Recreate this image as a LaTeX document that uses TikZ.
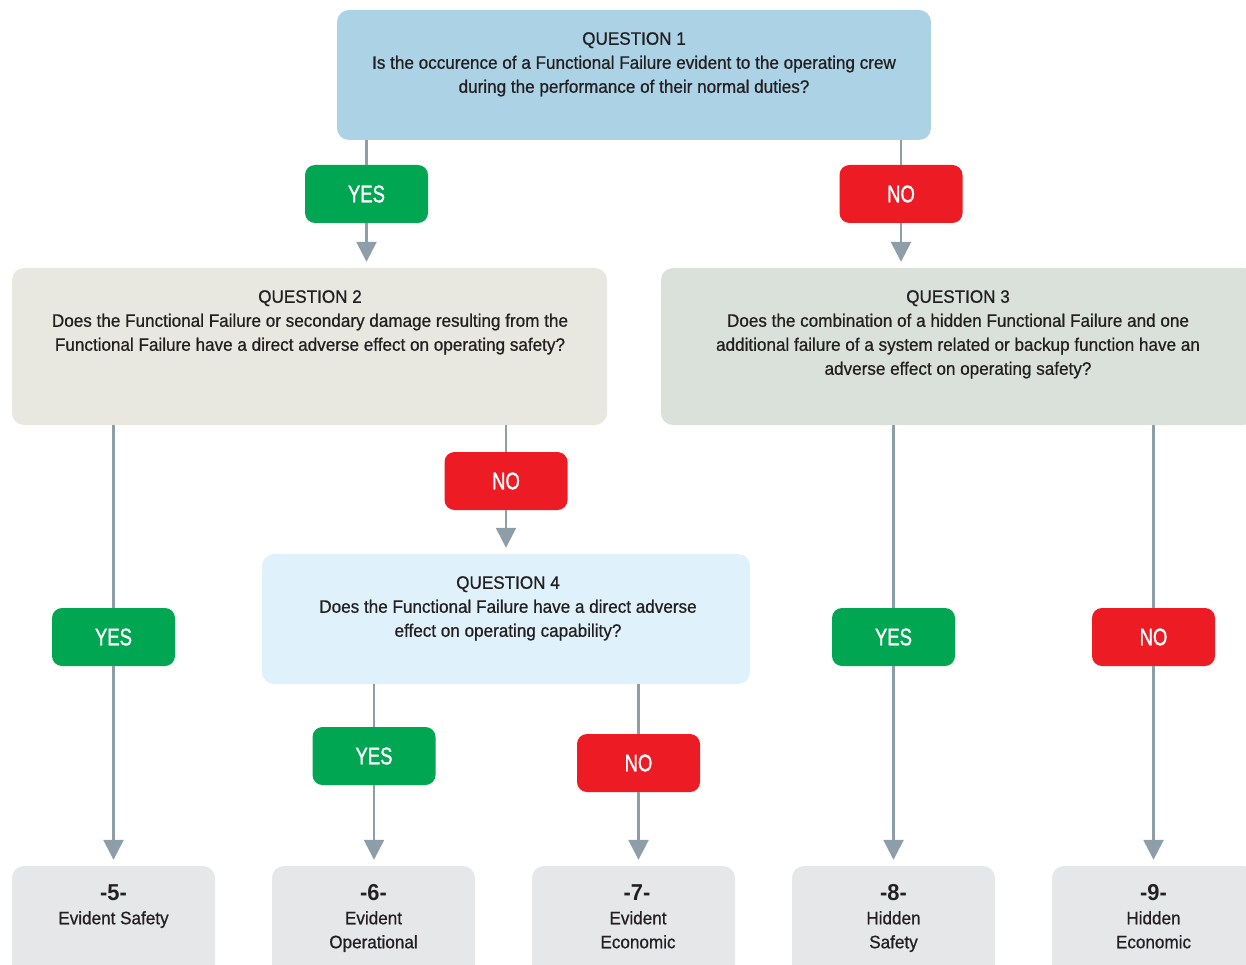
\documentclass[tikz,border=0pt]{standalone}
\usepackage{fontspec}
\setmainfont[FakeStretch=0.95]{Liberation Sans}
\newfontfamily\medfont[FakeStretch=0.95,FakeBold=0.7]{Liberation Sans}
\newfontfamily\tagfont[FakeStretch=0.77,FakeBold=1.2]{Liberation Sans}
\newfontfamily\numfont[FakeStretch=0.95]{Liberation Sans Bold}
\usetikzlibrary{arrows.meta}

\definecolor{qone}{HTML}{ABD2E5}
\definecolor{qtwo}{HTML}{E8E8E0}
\definecolor{qthree}{HTML}{DAE1DB}
\definecolor{qfour}{HTML}{DFF1FA}
\definecolor{outfill}{HTML}{E6E7E8}
\definecolor{yesgreen}{HTML}{00A651}
\definecolor{nored}{HTML}{ED1C24}
\definecolor{flow}{HTML}{8D9EA9}
\definecolor{ink}{HTML}{231F20}

\tikzset{
  box/.style={rectangle, rounded corners=12pt, inner sep=0pt, draw=none},
  qtext/.style={align=center, anchor=north, inner sep=0pt, text=ink,
    font=\medfont\fontsize{18}{24}\selectfont},
  answer/.style={box, rounded corners=10pt, minimum width=123pt, minimum height=58pt,
    text=white, font=\tagfont\fontsize{24}{24}\selectfont},
  yesbox/.style={answer, fill=yesgreen},
  nobox/.style={answer, fill=nored},
  outbox/.style={box, fill=outfill, minimum width=203pt, minimum height=115pt},
  outnum/.style={anchor=center, inner sep=0pt, text=ink, font=\numfont\fontsize{23}{24}\selectfont},
  outtext/.style={align=center, anchor=north, inner sep=0pt, text=ink,
    font=\medfont\fontsize{18}{24}\selectfont},
  link/.style={draw=flow, line width=2.6pt},
  arrowlink/.style={link, -{Triangle[width=20pt,length=20pt]}, shorten >=6pt},
}

\begin{document}
\begin{tikzpicture}[x=1pt, y=-1pt]
  \useasboundingbox (0,0) rectangle (1246,965);
  \clip (0,0) rectangle (1246,965);

  % question boxes
  \node[box, fill=qone,   minimum width=594pt, minimum height=130pt] (q1) at (634,75) {};
  \node[box, fill=qtwo,   minimum width=595pt, minimum height=157pt] (q2) at (309.5,346.5) {};
  \node[box, fill=qthree, minimum width=594pt, minimum height=157pt] (q3) at (958,346.5) {};
  \node[box, fill=qfour,  minimum width=488pt, minimum height=130pt] (q4) at (506,619) {};

  \node[qtext] (t1) at (634,32) {QUESTION 1\\Is the occurence of a Functional Failure evident to the operating crew\\during the performance of their normal duties?};
  \node[qtext] (t2) at (310,290) {QUESTION 2\\Does the Functional Failure or secondary damage resulting from the\\Functional Failure have a direct adverse effect on operating safety?};
  \node[qtext] (t3) at (958,290) {QUESTION 3\\Does the combination of a hidden Functional Failure and one\\additional failure of a system related or backup function have an\\adverse effect on operating safety?};
  \node[qtext] (t4) at (508,576) {QUESTION 4\\Does the Functional Failure have a direct adverse\\effect on operating capability?};

  % outcome boxes
  \node[outbox] (o5) at (113.5,923.5) {};
  \node[outbox] (o6) at (373.5,923.5) {};
  \node[outbox] (o7) at (633.5,923.5) {};
  \node[outbox] (o8) at (893.5,923.5) {};
  \node[outbox] (o9) at (1153.5,923.5) {};

  \node[outnum] (n5) at (113.5,893) {-5-};
  \node[outnum] (n6) at (373.5,893) {-6-};
  \node[outnum] (n7) at (637,893) {-7-};
  \node[outnum] (n8) at (893.5,893) {-8-};
  \node[outnum] (n9) at (1153.5,893) {-9-};
  \node[outtext] (d5) at (113.5,911) {Evident Safety};
  \node[outtext] (d6) at (373.5,911) {Evident\\Operational};
  \node[outtext] (d7) at (638,911) {Evident\\Economic};
  \node[outtext] (d8) at (893.5,911) {Hidden\\Safety};
  \node[outtext] (d9) at (1153.5,911) {Hidden\\Economic};

  % answer labels
  \node[yesbox] (y1) at (366.5,194) {YES};
  \node[nobox]  (n1) at (901,194)   {NO};
  \node[nobox]  (n2) at (506,481)   {NO};
  \node[yesbox] (y2) at (113.5,637) {YES};
  \node[yesbox] (y4) at (374,756)   {YES};
  \node[nobox]  (n4) at (638.5,763) {NO};
  \node[yesbox] (y3) at (893.5,637) {YES};
  \node[nobox]  (n3) at (1153.5,637) {NO};

  % connectors
  \draw[link] (q1.south -| y1) -- (y1.north);
  \draw[arrowlink] (y1.south) -- (q2.north -| y1);
  \draw[link] (q1.south -| n1) -- (n1.north);
  \draw[arrowlink] (n1.south) -- (q3.north -| n1);

  \draw[link] (q2.south -| y2) -- (y2.north);
  \draw[arrowlink] (y2.south) -- (o5.north -| y2);
  \draw[link] (q2.south -| n2) -- (n2.north);
  \draw[arrowlink] (n2.south) -- (q4.north -| n2);

  \draw[link] (q4.south -| y4) -- (y4.north);
  \draw[arrowlink] (y4.south) -- (o6.north -| y4);
  \draw[link] (q4.south -| n4) -- (n4.north);
  \draw[arrowlink] (n4.south) -- (o7.north -| n4);

  \draw[link] (q3.south -| y3) -- (y3.north);
  \draw[arrowlink] (y3.south) -- (o8.north -| y3);
  \draw[link] (q3.south -| n3) -- (n3.north);
  \draw[arrowlink] (n3.south) -- (o9.north -| n3);
\end{tikzpicture}
\end{document}
